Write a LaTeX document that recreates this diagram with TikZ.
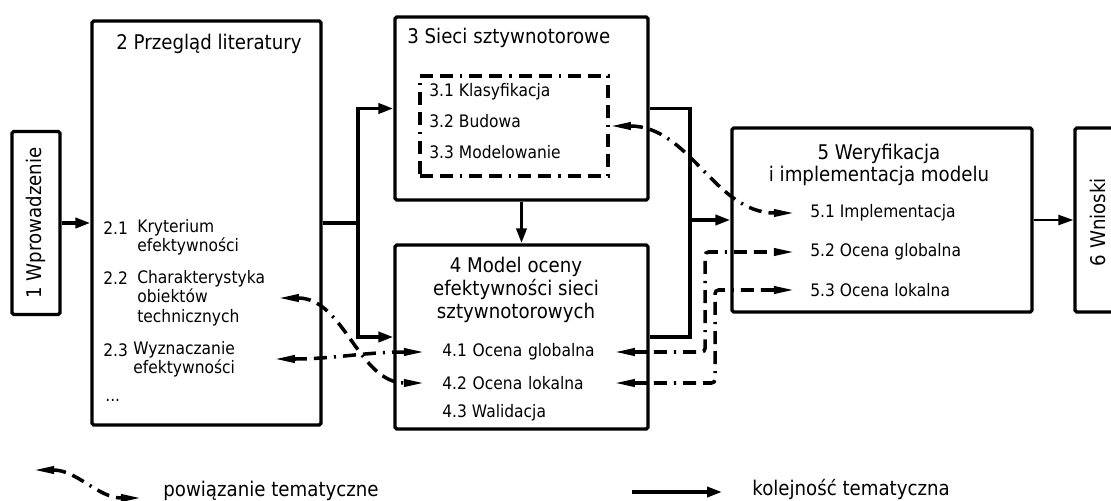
\documentclass[tikz,border=0pt]{standalone}
\usepackage{fontspec}
\setmainfont{DejaVu Sans}[FakeStretch=0.9]
\usetikzlibrary{arrows.meta}

\newcommand\titlesize{\fontsize{11.5}{13}\selectfont}
\newcommand\itemsize{\fontsize{9.8}{11}\selectfont}

\begin{document}
\begin{tikzpicture}[x=0.02cm, y=-0.02cm,
    box/.style={draw, line width=1.9pt, rounded corners=1pt, inner sep=0pt},
    title/.style={font=\titlesize, align=center, inner sep=0pt},
    item/.style={font=\itemsize, anchor=west, align=left, inner sep=0pt},
    seq/.style={line width=2pt},
    seqarr/.style={seq, -{Triangle[length=8.5pt, width=5.7pt]}},
    link/.style={line width=2pt, dash pattern=on 7.4pt off 4pt on 7.4pt off 4pt on 1.2pt off 4pt,
        {Triangle[length=12pt, width=4pt]}-{Triangle[length=12pt, width=4pt]}}]
    \useasboundingbox (0,0) rectangle (1111,500);

    \node[box, minimum width=0.96cm, minimum height=3.66cm] (b1) at (36,223) {};
    \node[box, minimum width=4.58cm, minimum height=8.08cm] (b2) at (206.5,223) {};
    \node[box, minimum width=5.06cm, minimum height=3.66cm] (b3) at (521.5,108.5) {};
    \node[box, minimum width=5.06cm, minimum height=3.68cm] (b4) at (521.5,337) {};
    \node[box, minimum width=6cm, minimum height=3.68cm] (b5) at (882,220) {};
    \node[box, minimum width=1.6cm, minimum height=3.68cm] (b6) at (1115,220) {};
    \node[box, line width=2pt, rounded corners=0pt, minimum width=3.76cm, minimum height=2cm,
        dash pattern=on 7.4pt off 4pt on 7.4pt off 4pt on 1.2pt off 4pt] (b3in) at (514,126) {};

    \node[title, rotate=90] (t1) at (b1) {1 Wprowadzenie};
    \node[title] (t2) at (209,44) {2 Przegląd literatury};
    \node[title, anchor=west] (t3) at (407,38) {3 Sieci sztywnotorowe};
    \node[title] (t4) at (516,290) {4 Model oceny\\efektywności sieci\\sztywnotorowych};
    \node[title] (t5) at (879,165) {5 Weryfikacja\\i implementacja modelu};
    \node[title, rotate=90] (t6) at (1098,222) {6 Wnioski};

    \node[item] (n21) at (103,228) {2.1};
    \node[item, text width=2.8cm] (i21) at (137,237) {Kryterium\\efektywności};
    \node[item] (n22) at (103,278) {2.2};
    \node[item, text width=2.8cm] (i22) at (137,298) {Charakterystyka\\obiektów\\technicznych};
    \node[item] (n23) at (103,350) {2.3};
    \node[item, text width=2.8cm] (i23) at (133,359) {Wyznaczanie\\efektywności};
    \node[item] (dots) at (105,400) {...};

    \node[item] (i31) at (429,92) {3.1 Klasyfikacja};
    \node[item] (i32) at (429,121) {3.2 Budowa};
    \node[item] (i33) at (429,152) {3.3 Modelowanie};

    \node[item, text width=3.42cm] (i41) at (442,352) {4.1 Ocena globalna};
    \node[item, text width=3.42cm] (i42) at (442,383) {4.2 Ocena lokalna};
    \node[item] (i43) at (442,413) {4.3 Walidacja};

    \node[item] (i51) at (810,213) {5.1 Implementacja};
    \node[item] (i52) at (810,252) {5.2 Ocena globalna};
    \node[item] (i53) at (810,290) {5.3 Ocena lokalna};

    \coordinate (jl) at (358,223);
    \coordinate (jr) at (690,220);
    \draw[seqarr] (b1.east) -- (b2.west);
    \draw[seq] (b2.east) -- (jl);
    \draw[seqarr] (jl) |- (b3.west);
    \draw[seqarr] (jl) |- (b4.west);
    \draw[seqarr] (b3.south) -- (b4.north);
    \draw[seq] (b3.east) -| (jr);
    \draw[seq] (b4.east) -| (jr);
    \draw[seqarr] (jr) -- (b5.west);
    \draw[seqarr, line width=1.2pt] (b5.east) -- (b6.west);

    \draw[link] (i22.east) to[out=0, in=180] ([xshift=-3.4mm]i42.west);
    \draw[link] (i23.east) to[out=0, in=180] ([xshift=-3.4mm]i41.west);
    \draw[link] (b3in.east) to[out=0, in=180] ([xshift=-3mm]i51.west);
    \draw[link, rounded corners=2pt] (i41.east) -| ([xshift=-21mm]i52.west) -- ([xshift=-3mm]i52.west);
    \draw[link, rounded corners=2pt] (i42.east) -| ([xshift=-19mm]i53.west) -- ([xshift=-3mm]i53.west);

    \coordinate (lg1) at (33,470);
    \coordinate (lg2) at (142,498);
    \draw[link] (lg1) to[out=0, in=180] (lg2);
    \node[title, anchor=base west] (lgt1) at (163,496) {powiązanie tematyczne};
    \coordinate (ls1) at (632,492);
    \coordinate (ls2) at (722,492);
    \draw[seqarr] (ls1) -- (ls2);
    \node[title, anchor=base west] (lgt2) at (752,495) {kolejność tematyczna};
\end{tikzpicture}
\end{document}
